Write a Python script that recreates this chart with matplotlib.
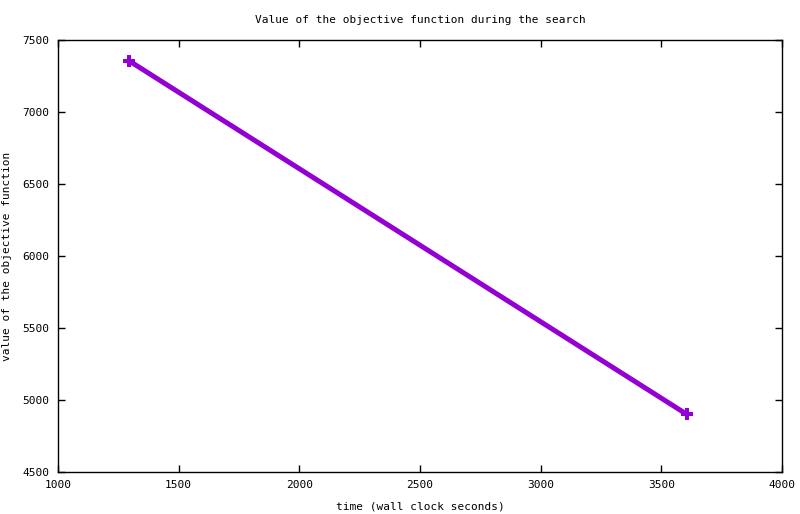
import matplotlib
matplotlib.use("Agg")
import matplotlib.pyplot as plt

times = [1295, 3606]
objective = [7355, 4900]
xticks = [1000, 1500, 2000, 2500, 3000, 3500, 4000]
yticks = [4500, 5000, 5500, 6000, 6500, 7000, 7500]

plt.rcParams['font.family'] = ['DejaVu Sans Mono']
plt.rcParams['font.size'] = 8

fig = plt.figure(figsize=(8, 5.14), dpi=100)
ax = fig.add_axes([58/800, 1-472/514, (782-58)/800, (472-40)/514])
ax.plot(times, objective, color='#9400D3', linewidth=3.6, marker='P', markersize=9,
        markeredgewidth=0, solid_capstyle='butt')
ax.set_xlim(1000, 4000)
ax.set_ylim(4500, 7500)
ax.set_xticks(xticks)
ax.set_yticks(yticks)
ax.tick_params(direction='in', top=True, right=True, length=5, width=1, pad=6)
for s in ax.spines.values():
    s.set_linewidth(1)
ax.set_title('Value of the objective function during the search', fontsize=8, pad=12)
ax.set_xlabel('time (wall clock seconds)', labelpad=8)
ax.set_ylabel('value of the objective function', labelpad=8)
fig.savefig('out.png', dpi=100)
